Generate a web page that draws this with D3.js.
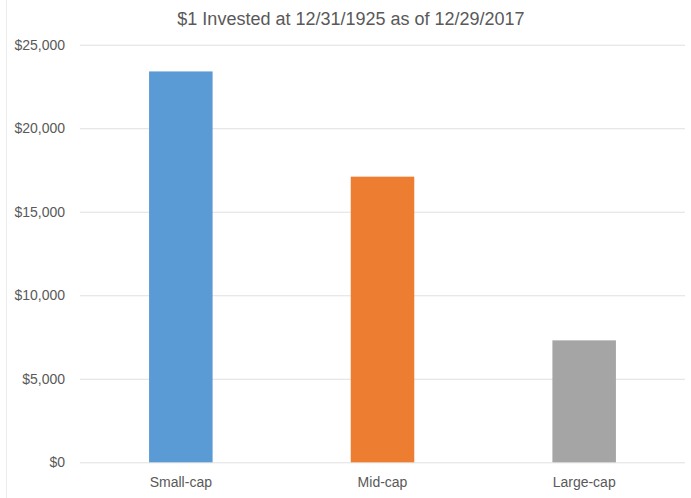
<!DOCTYPE html>
<html>
<head>
<meta charset="utf-8">
<script src="https://cdn.jsdelivr.net/npm/d3@7"></script>
<style>
  body { margin: 0; background: #fff; }
  text { font-family: "Liberation Sans", Arial, sans-serif; fill: #595959; }
</style>
</head>
<body>
<div id="chart"></div>
<script>
const categories = ["Small-cap", "Mid-cap", "Large-cap"];
const values = [23400, 17100, 7300];
const barColors = ["#5B9BD5", "#ED7D31", "#A5A5A5"];
const yTicks = [0, 5000, 10000, 15000, 20000, 25000];
const title = "$1 Invested at 12/31/1925 as of 12/29/2017";

const width = 691, height = 498;
const margin = { top: 44.7, right: 6, bottom: 35.7, left: 80 };

const svg = d3.select("#chart")
    .append("svg")
    .attr("width", width)
    .attr("height", height);

// faint chart border on the left
svg.append("line")
    .attr("x1", 6.5).attr("x2", 6.5)
    .attr("y1", 0).attr("y2", height)
    .attr("stroke", "#ececec");

const x = d3.scaleBand()
    .domain(categories)
    .range([margin.left, width - margin.right])
    .paddingInner(0.685)
    .paddingOuter(0.3425);

const y = d3.scaleLinear()
    .domain([0, 25000])
    .range([height - margin.bottom, margin.top]);

// gridlines + y labels
const yAxis = d3.axisLeft(y)
    .tickValues(yTicks)
    .tickSize(-(width - margin.right - margin.left))
    .tickPadding(15)
    .tickFormat(d => "$" + d3.format(",")(d));

svg.append("g")
    .attr("transform", `translate(${margin.left},0)`)
    .call(yAxis)
    .call(g => g.select(".domain").remove())
    .call(g => g.selectAll("line").attr("stroke", "#e0e0e0"))
    .call(g => g.selectAll("text")
        .attr("font-size", "14px")
        .style("fill", "#595959"));

// bars
svg.selectAll(".bar")
    .data(values)
    .enter()
    .append("rect")
    .attr("class", "bar")
    .attr("x", (d, i) => x(categories[i]))
    .attr("y", d => y(d))
    .attr("width", x.bandwidth())
    .attr("height", d => y(0) - y(d))
    .attr("fill", (d, i) => barColors[i]);

// x labels
const xAxis = d3.axisBottom(x).tickSize(0).tickPadding(15);

svg.append("g")
    .attr("transform", `translate(0,${y(0)})`)
    .call(xAxis)
    .call(g => g.select(".domain").remove())
    .call(g => g.selectAll("text")
        .attr("font-size", "14px")
        .style("fill", "#595959"));

// title
svg.append("text")
    .attr("x", 351)
    .attr("y", 25)
    .attr("text-anchor", "middle")
    .attr("font-size", "18px")
    .text(title);
</script>
</body>
</html>
